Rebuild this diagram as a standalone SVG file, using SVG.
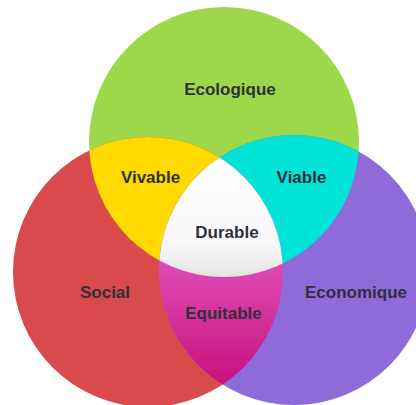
<svg xmlns="http://www.w3.org/2000/svg" width="416" height="405" viewBox="0 0 416 405">
<style>
  .lbl { font-family: "Liberation Sans", Arial, sans-serif; font-weight: bold; font-size: 17px; fill: #30303a; text-anchor: middle; }
</style>
<defs>
  <clipPath id="cG"><circle cx="224" cy="142" r="135"/></clipPath>
  <clipPath id="cR"><circle cx="148" cy="272" r="135"/></clipPath>
  <clipPath id="cP"><circle cx="294" cy="270" r="135"/></clipPath>
  <linearGradient id="gM" x1="0" y1="262" x2="0" y2="387" gradientUnits="userSpaceOnUse">
    <stop offset="0" stop-color="#de4cb4"/>
    <stop offset="1" stop-color="#c80f7c"/>
  </linearGradient>
  <linearGradient id="gW" x1="0" y1="158" x2="0" y2="278" gradientUnits="userSpaceOnUse">
    <stop offset="0" stop-color="#ffffff"/>
    <stop offset="0.7" stop-color="#f8f8f8"/>
    <stop offset="1" stop-color="#e4e4e4"/>
  </linearGradient>
</defs>
<rect width="416" height="405" fill="#ffffff"/>
<g id="ecologique">
  <circle cx="224" cy="142" r="135" fill="#9dd84a"/>
</g>
<g id="social">
  <circle cx="148" cy="272" r="135" fill="#d94a4c"/>
</g>
<g id="economique">
  <circle cx="294" cy="270" r="135" fill="#8e6bd9"/>
</g>
<g id="vivable">
  <circle cx="224" cy="142" r="135" fill="#ffd900" clip-path="url(#cR)"/>
</g>
<g id="viable">
  <circle cx="224" cy="142" r="135" fill="#00e3d6" clip-path="url(#cP)"/>
</g>
<g id="equitable">
  <circle cx="148" cy="272" r="135" fill="url(#gM)" clip-path="url(#cP)"/>
</g>
<g id="durable">
  <g clip-path="url(#cG)">
    <circle cx="148" cy="272" r="135" fill="url(#gW)" clip-path="url(#cP)"/>
  </g>
</g>
<g id="labels">
  <text class="lbl" x="230" y="95">Ecologique</text>
  <text class="lbl" x="150.5" y="183">Vivable</text>
  <text class="lbl" x="301.5" y="183">Viable</text>
  <text class="lbl" x="227" y="238">Durable</text>
  <text class="lbl" x="105" y="298">Social</text>
  <text class="lbl" x="356" y="298">Economique</text>
  <text class="lbl" x="223.5" y="319">Equitable</text>
</g>
</svg>
